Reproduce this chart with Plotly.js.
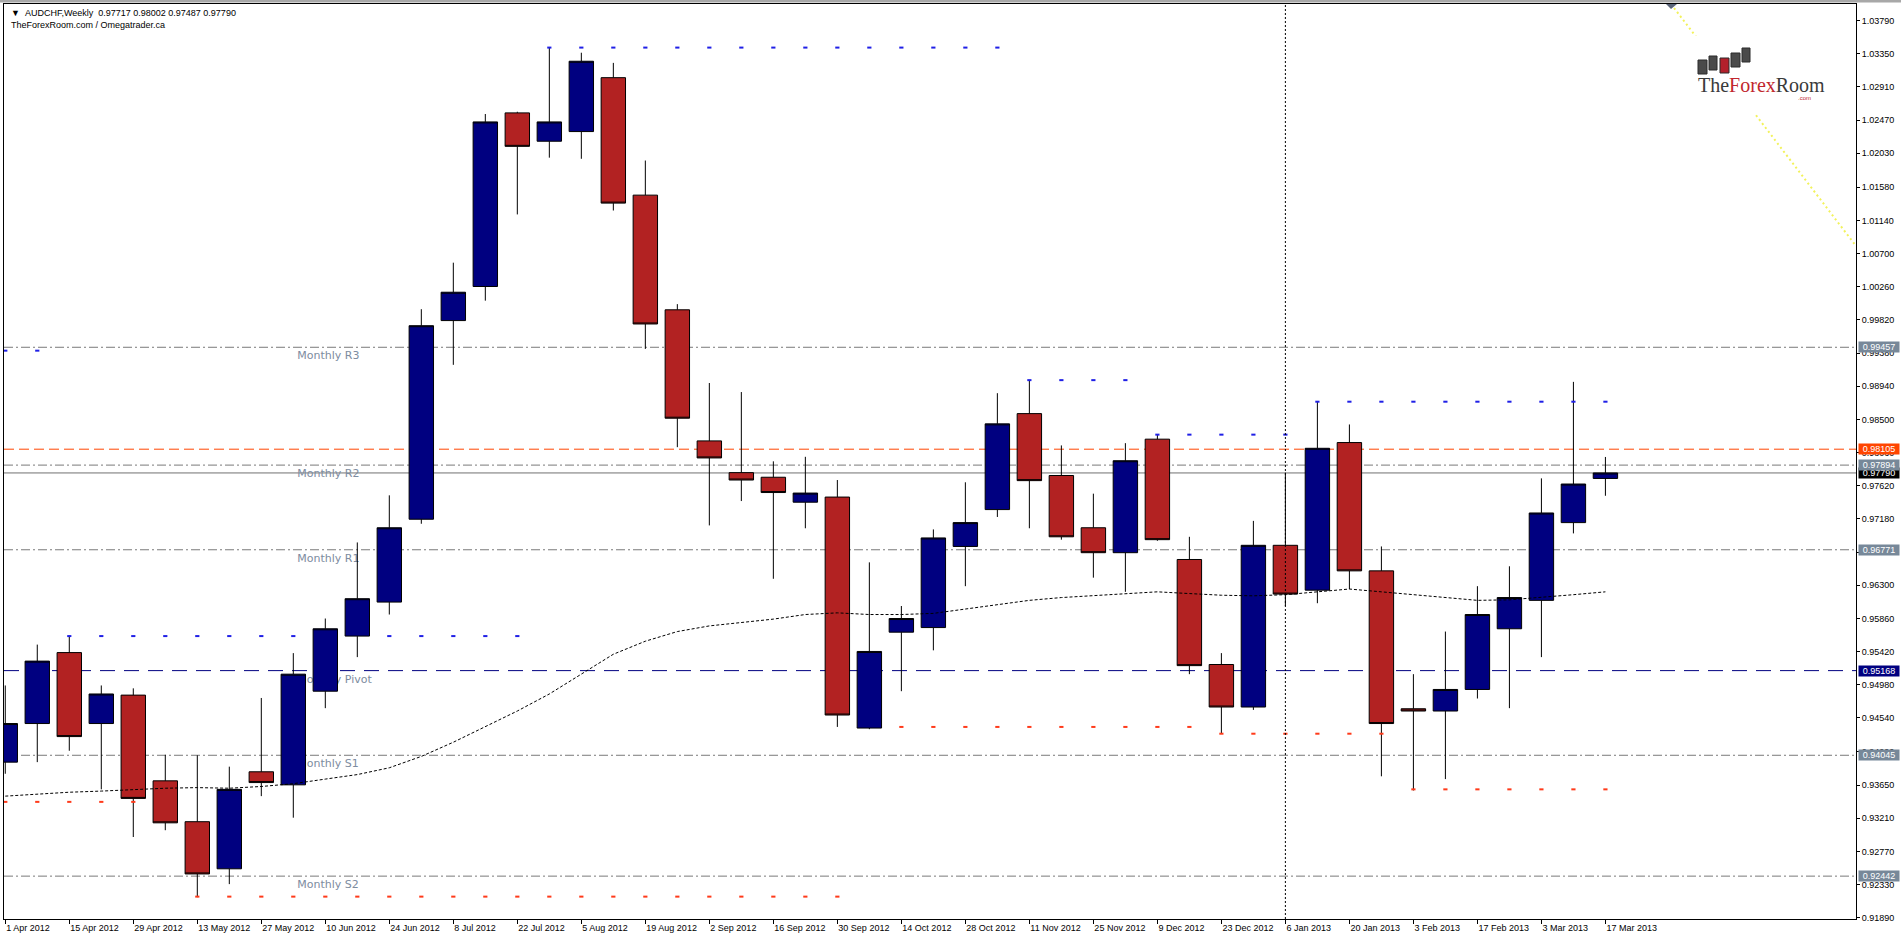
<!DOCTYPE html>
<html><head><meta charset="utf-8">
<script src="https://cdn.plot.ly/plotly-3.0.1.min.js"></script>
<style>html,body{margin:0;padding:0;background:#fff;overflow:hidden}#chart{width:1901px;height:939px}</style>
</head><body><div id="chart"></div>
<script>
// ---------- DATA ----------
const weeks = ["1 Apr 2012","8 Apr 2012","15 Apr 2012","22 Apr 2012","29 Apr 2012","6 May 2012","13 May 2012","20 May 2012","27 May 2012","3 Jun 2012","10 Jun 2012","17 Jun 2012","24 Jun 2012","1 Jul 2012","8 Jul 2012","15 Jul 2012","22 Jul 2012","29 Jul 2012","5 Aug 2012","12 Aug 2012","19 Aug 2012","26 Aug 2012","2 Sep 2012","9 Sep 2012","16 Sep 2012","23 Sep 2012","30 Sep 2012","7 Oct 2012","14 Oct 2012","21 Oct 2012","28 Oct 2012","4 Nov 2012","11 Nov 2012","18 Nov 2012","25 Nov 2012","2 Dec 2012","9 Dec 2012","16 Dec 2012","23 Dec 2012","30 Dec 2012","6 Jan 2013","13 Jan 2013","20 Jan 2013","27 Jan 2013","3 Feb 2013","10 Feb 2013","17 Feb 2013","24 Feb 2013","3 Mar 2013","10 Mar 2013","17 Mar 2013"];
const opens  = [0.93954,0.94466,0.95407,0.94466,0.94843,0.93706,0.93164,0.92539,0.93826,0.93653,0.94895,0.95626,0.96077,0.97176,0.99811,1.00263,1.02566,1.02190,1.02318,1.03033,1.01475,0.99954,0.98215,0.97794,0.97733,0.97402,0.97470,0.94406,0.95678,0.95739,0.96815,0.97304,0.98577,0.97756,0.97063,0.96732,0.98238,0.96642,0.95249,0.94685,0.96830,0.96235,0.98193,0.96491,0.94662,0.94632,0.94918,0.95723,0.96100,0.97131,0.97717];
const highs  = [0.94971,0.95513,0.95626,0.94971,0.94933,0.94052,0.94045,0.93894,0.94805,0.95400,0.95859,0.96868,0.97493,0.99962,1.00579,1.02551,1.02581,1.03440,1.03364,1.03229,1.01934,1.00029,0.98983,0.98863,0.97944,0.98004,0.97696,0.96604,0.96025,0.97041,0.97666,0.98848,0.99021,0.98155,0.97515,0.98185,0.98306,0.96943,0.95400,0.97154,0.97794,0.98735,0.98433,0.96815,0.95121,0.95686,0.96288,0.96552,0.97718,0.98998,0.98002];
const lows   = [0.93800,0.93954,0.94105,0.93593,0.92961,0.93051,0.92163,0.92336,0.93503,0.93217,0.94670,0.95347,0.95912,0.97116,0.99224,1.00075,1.01219,1.01972,1.01957,1.01271,0.99435,0.98132,0.97094,0.97417,0.96386,0.97056,0.94421,0.94391,0.94895,0.95437,0.96288,0.97206,0.97056,0.96905,0.96401,0.96213,0.96890,0.95121,0.94331,0.94647,0.96025,0.96062,0.96250,0.93766,0.93578,0.93729,0.94798,0.94670,0.95347,0.96988,0.97487];
const closes = [0.94466,0.95294,0.94293,0.94858,0.93473,0.93149,0.92471,0.93593,0.93683,0.95121,0.95723,0.96122,0.97063,0.99743,1.00187,1.02446,1.02122,1.02446,1.03251,1.01369,0.99766,0.98516,0.97989,0.97696,0.97530,0.97523,0.94579,0.95422,0.95859,0.96928,0.97131,0.98441,0.97688,0.96943,0.96732,0.97952,0.96905,0.95234,0.94685,0.96830,0.96183,0.98117,0.96491,0.94466,0.94632,0.94918,0.95912,0.96137,0.97259,0.97643,0.97790];
const movingAvg = [0.93503,0.93533,0.93555,0.93570,0.93593,0.93608,0.93616,0.93608,0.93631,0.93668,0.93729,0.93789,0.93879,0.94030,0.94218,0.94421,0.94632,0.94858,0.95121,0.95385,0.95558,0.95686,0.95761,0.95806,0.95851,0.95912,0.95934,0.95912,0.95912,0.95927,0.95987,0.96047,0.96100,0.96137,0.96160,0.96183,0.96213,0.96190,0.96168,0.96160,0.96175,0.96213,0.96250,0.96213,0.96175,0.96137,0.96100,0.96107,0.96137,0.96175,0.96213];
// high / low marker rows (first week index, last week index, price)
const upStart = [0, 2, 17, 32, 36, 41];
const upEnd   = [1, 16, 31, 35, 40, 50];
const upLevel = [0.99412, 0.95626, 1.03432, 0.99021, 0.98298, 0.98735];
const dnStart = [0, 6, 27, 38, 44];
const dnEnd   = [4, 26, 37, 43, 50];
const dnLevel = [0.93427, 0.92170, 0.94421, 0.94331, 0.93593];
// monthly pivot levels
const levelValues = [0.99457, 0.97894, 0.96771, 0.95168, 0.94045, 0.92442];
const levelNames  = ["Monthly R3", "Monthly R2", "Monthly R1", "Monthly Pivot", "Monthly S1", "Monthly S2"];
const alertLevel = 0.98105;
const bidLevel = 0.97790;
// price axis ticks
const priceTicks = [1.0379,1.0335,1.0291,1.0247,1.0203,1.0158,1.0114,1.0070,1.0026,0.9982,0.9938,0.9894,0.9850,0.9806,0.9762,0.9718,0.9674,0.9630,0.9586,0.9542,0.9498,0.9454,0.9409,0.9365,0.9321,0.9277,0.9233,0.9189];
const separatorWeek = "6 Jan 2013";
const trendX = [52.05, 57.83];
const trendY = [1.0401, 1.0080];

// ---------- GEOMETRY ----------
const W = 1901, H = 939, ML = 4, MR = 45, MT = 4, MB = 20;
const PW = W - ML - MR, PH = H - MT - MB;
const px = x => (x - ML) / PW;
const py = y => (H - MB - y) / PH;
const FONT = "Liberation Sans, Arial, sans-serif";

const idx = weeks.map((_, i) => i);

// ---------- TRACES ----------
const traces = [];
traces.push({
  type: "candlestick", x: idx, open: opens, high: highs, low: lows, close: closes,
  increasing: {line: {color: "#000000", width: 1}, fillcolor: "#000080"},
  decreasing: {line: {color: "#000000", width: 1}, fillcolor: "#B22222"},
  whiskerwidth: 0, hoverinfo: "skip", showlegend: false
});
traces.push({
  type: "scatter", mode: "lines", x: idx, y: movingAvg,
  line: {color: "#000000", width: 1, dash: "3px,2px"}, hoverinfo: "skip", showlegend: false
});
function rowPoints(starts, ends, levels) {
  const xs = [], ys = [];
  starts.forEach((s, k) => {
    for (let i = s; i <= ends[k]; i++) {
      const lo = Math.min(opens[i], closes[i]), hi = Math.max(opens[i], closes[i]);
      if (levels[k] >= lo && levels[k] <= hi) continue; // hidden behind candle body
      xs.push(i); ys.push(levels[k]);
    }
  });
  return {xs, ys};
}
const up = rowPoints(upStart, upEnd, upLevel);
const dn = rowPoints(dnStart, dnEnd, dnLevel);
traces.push({type: "scatter", mode: "markers", x: up.xs, y: up.ys,
  marker: {symbol: "line-ew", size: 3, line: {width: 2, color: "#1f1fe6"}}, hoverinfo: "skip", showlegend: false});
traces.push({type: "scatter", mode: "markers", x: dn.xs, y: dn.ys,
  marker: {symbol: "line-ew", size: 3, line: {width: 2, color: "#ff3a1a"}}, hoverinfo: "skip", showlegend: false});

// ---------- SHAPES ----------
const shapes = [];
const levelStyle = ["rr", "rr", "rr", "pivot", "rr", "rr"];
levelValues.forEach((v, k) => {
  const isPivot = levelStyle[k] === "pivot";
  shapes.push({type: "line", xref: "paper", yref: "y", x0: 0, x1: 1, y0: v, y1: v, layer: "below",
    line: isPivot ? {color: "#000080", width: 1, dash: "15px,9px"} : {color: "#7a7a7a", width: 1, dash: "9px,3px,2px,3px"}});
  shapes.push({type: "rect", xref: "x", yref: "y", x0: 9, x1: 14, y0: v, y1: v, layer: "below",
    line: {width: 0}, fillcolor: "rgba(0,0,0,0)",
    label: {text: levelNames[k], textposition: "top left", yanchor: "top", padding: 1,
      font: {family: "DejaVu Sans, sans-serif", size: 11, color: "#7d8ca0"}}});
});
shapes.push({type: "line", xref: "paper", yref: "y", x0: 0, x1: 1, y0: alertLevel, y1: alertLevel, layer: "below",
  line: {color: "#ff4500", width: 1, dash: "10px,5px"}});
shapes.push({type: "line", xref: "paper", yref: "y", x0: 0, x1: 1, y0: bidLevel, y1: bidLevel, layer: "below",
  line: {color: "#707070", width: 1}});
const sepIdx = weeks.indexOf(separatorWeek);
shapes.push({type: "line", xref: "x", yref: "paper", x0: sepIdx, x1: sepIdx, y0: 0, y1: 1, layer: "above",
  line: {color: "#000000", width: 1, dash: "2px,2px"}});
shapes.push({type: "line", xref: "x", yref: "y", x0: trendX[0], x1: trendX[1], y0: trendY[0], y1: trendY[1], layer: "below",
  line: {color: "#f2f25a", width: 2, dash: "2px,3px"}});
// top frame band
shapes.push({type: "rect", xref: "paper", yref: "paper", x0: px(0), x1: px(W), y0: py(0), y1: py(2.5),
  line: {width: 0}, fillcolor: "#a8a8a8", layer: "above"});
// object marker at the top
shapes.push({type: "path", xref: "paper", yref: "paper",
  path: `M ${px(1666)} ${py(4)} L ${px(1677)} ${py(4)} L ${px(1671)} ${py(9)} Z`,
  fillcolor: "#5a6478", line: {width: 0}, layer: "above"});
// logo backdrop and blocks
shapes.push({type: "rect", xref: "paper", yref: "paper", x0: px(1694), x1: px(1822), y0: py(114), y1: py(36),
  fillcolor: "#ffffff", line: {width: 0}, layer: "above"});
const logoBlocks = [[1698,1707,60,74,"#4a4a4a"],[1709,1717,56,70,"#4a4a4a"],[1720,1729,58,73,"#b3202b"],[1731,1740,53,67,"#4a4a4a"],[1742,1750,48,62,"#4a4a4a"]];
logoBlocks.forEach(b => shapes.push({type: "rect", xref: "paper", yref: "paper",
  x0: px(b[0]), x1: px(b[1]), y0: py(b[3]), y1: py(b[2]), fillcolor: b[4], line: {color: "#2a2a2a", width: 1}, layer: "above"}));

// ---------- ANNOTATIONS ----------
const ann = [];
const nb = "\u00A0";
const last = weeks.length - 1;
ann.push({xref: "paper", yref: "paper", x: px(9), y: py(13), xanchor: "left", yanchor: "middle", showarrow: false,
  text: "▼" + nb + nb + "AUDCHF,Weekly" + nb + nb + [opens[last], highs[last], lows[last], closes[last]].map(v => v.toFixed(5)).join(nb),
  font: {family: FONT, size: 9, color: "#000"}});
ann.push({xref: "paper", yref: "paper", x: px(9), y: py(25), xanchor: "left", yanchor: "middle", showarrow: false,
  text: "TheForexRoom.com / Omegatrader.ca", font: {family: FONT, size: 9, color: "#000"}});
// logo text
ann.push({xref: "paper", yref: "paper", x: px(1696), y: py(85), xanchor: "left", yanchor: "middle", showarrow: false,
  text: "The<span style='color:#c1272d'>Forex</span>Room", font: {family: "Liberation Serif, serif", size: 20, color: "#3a3a3a"}});
ann.push({xref: "paper", yref: "paper", x: px(1813), y: py(97.5), xanchor: "right", yanchor: "middle", showarrow: false,
  text: ".com", font: {family: FONT, size: 6, color: "#c1272d"}});
// price boxes
function priceBox(v, bg) {
  ann.push({xref: "paper", yref: "y", x: px(1858), y: v, xanchor: "left", yanchor: "middle", showarrow: false,
    text: v.toFixed(5), bgcolor: bg, width: 40, height: 10, borderpad: 0, align: "center",
    font: {family: FONT, size: 9, color: "#ffffff"}});
}
priceBox(bidLevel, "#000000");
const boxColors = ["#778899", "#778899", "#778899", "#000080", "#778899", "#778899"];
levelValues.forEach((v, k) => priceBox(v, boxColors[k]));
priceBox(alertLevel, "#ff4500");

// ---------- LAYOUT ----------
const tickIdx = idx.filter(i => i % 2 === 0);
const layout = {
  width: W, height: H,
  margin: {l: ML, r: MR, t: MT, b: MB, pad: 0},
  paper_bgcolor: "#ffffff", plot_bgcolor: "#ffffff",
  showlegend: false, boxgap: 0.2375, boxgroupgap: 0,
  xaxis: {type: "linear", range: [-0.04, 57.83], fixedrange: true,
    rangeslider: {visible: false},
    tickvals: tickIdx, ticktext: tickIdx.map(i => weeks[i]), ticks: "outside", ticklen: 4, tickcolor: "#000",
    ticklabelposition: "outside right",
    tickfont: {family: FONT, size: 9, color: "#000"},
    showgrid: false, zeroline: false, showline: true, mirror: true, linecolor: "#000", linewidth: 1},
  yaxis: {range: [0.918733, 1.040102], side: "right", fixedrange: true,
    tickvals: priceTicks, ticktext: priceTicks.map(v => v.toFixed(5)), ticks: "outside", ticklen: 3, tickcolor: "#000",
    tickfont: {family: FONT, size: 9, color: "#000"},
    showgrid: false, zeroline: false, showline: true, mirror: true, linecolor: "#000", linewidth: 1},
  shapes: shapes, annotations: ann
};
Plotly.newPlot("chart", traces, layout, {displayModeBar: false, staticPlot: true});
</script>
</body></html>
